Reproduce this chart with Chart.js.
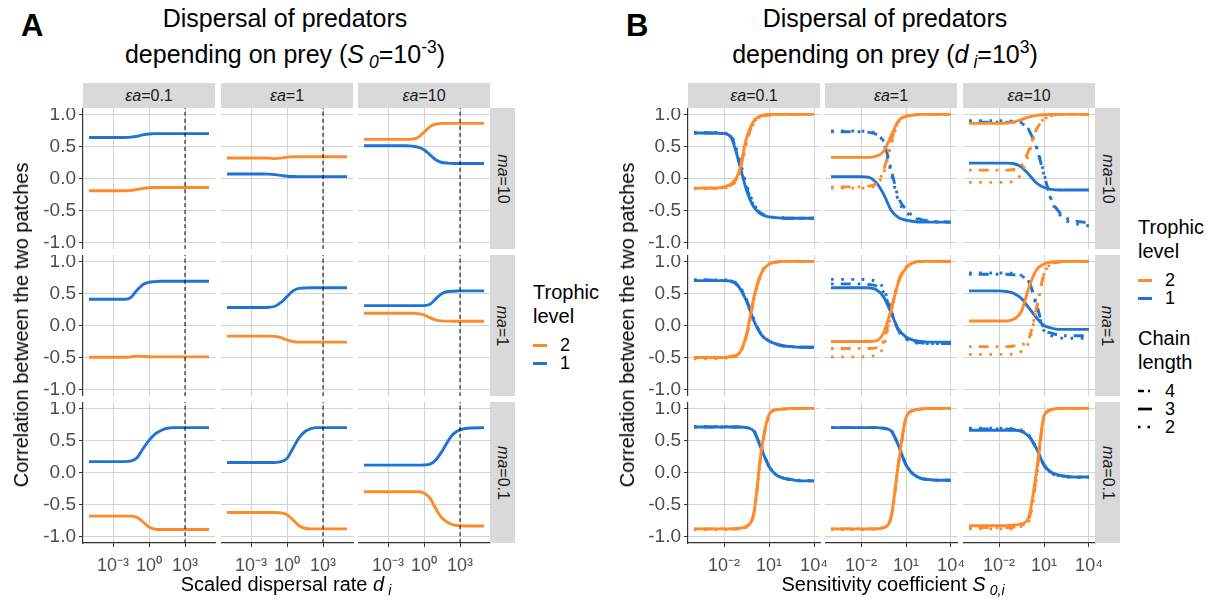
<!DOCTYPE html>
<html><head><meta charset="utf-8">
<script src="https://cdn.jsdelivr.net/npm/chart.js@4.4.1/dist/chart.umd.min.js"></script>
<style>
body{margin:0;background:#fff;width:1217px;height:600px;position:relative;overflow:hidden;font-family:"Liberation Sans",Arial,Helvetica,sans-serif;color:#000}
.abs{position:absolute;white-space:nowrap}
.title{font-size:25px;line-height:25px;transform:translateX(-50%)}
.plab{font-size:31px;font-weight:bold;line-height:31px}
.strip{position:absolute;background:#d9d9d9;color:#1a1a1a;font-size:16px;display:flex;align-items:center;justify-content:center;white-space:nowrap}
.strip span.r{display:inline-block;transform:rotate(90deg)}
.axt{font-size:20px;line-height:20px}
sub,sup{font-size:0.7em;line-height:0;position:relative;vertical-align:baseline}
sup{top:-0.55em} sub{top:0.3em}
.lt{font-size:20px;line-height:24px}
.li{font-size:18px;line-height:18px;display:flex;align-items:center;height:18px}
.key{display:inline-block;width:14px;height:3px;margin-right:13px}
</style></head><body>
<script>
// ---------- categories / ticks ----------
const EA_LABELS = ['0.1','1','10'];          // facet columns (εa)
const MA_LABELS = ['10','1','0.1'];          // facet rows (ma)
const Y_TICKS = [-1, -0.5, 0, 0.5, 1];
const A_X_TICKS = [1e-3, 1, 1e3];
const A_X_TICK_LABELS = ['10⁻³','10⁰','10³'];
const B_X_TICKS = [1e-2, 10, 1e4];
const B_X_TICK_LABELS = ['10⁻²','10¹','10⁴'];
const A_DASHED_AT = 1000;

// ---------- panel A: x = scaled dispersal rate d_i ----------
const A_X = [1e-5,1e-4,1e-3,1e-2,0.0316,0.1,0.316,1,3.16,10,31.6,100,316,1000,1e4,1e5];
const A_ma10_ea01_L1 = [0.64,0.64,0.64,0.64,0.645,0.66,0.68,0.695,0.70,0.70,0.70,0.70,0.70,0.70,0.70,0.70];
const A_ma10_ea01_L2 = [-0.19,-0.19,-0.19,-0.19,-0.185,-0.17,-0.155,-0.145,-0.14,-0.14,-0.14,-0.14,-0.14,-0.14,-0.14,-0.14];
const A_ma10_ea1_L1 = [0.07,0.07,0.07,0.07,0.068,0.06,0.048,0.036,0.031,0.03,0.03,0.03,0.03,0.03,0.03,0.03];
const A_ma10_ea1_L2 = [0.32,0.32,0.32,0.32,0.318,0.31,0.318,0.333,0.34,0.34,0.34,0.34,0.34,0.34,0.34,0.34];
const A_ma10_ea10_L1 = [0.51,0.51,0.51,0.51,0.51,0.505,0.49,0.45,0.37,0.29,0.25,0.24,0.235,0.235,0.235,0.235];
const A_ma10_ea10_L2 = [0.61,0.61,0.61,0.61,0.61,0.615,0.64,0.72,0.81,0.85,0.86,0.86,0.86,0.86,0.86,0.86];
const A_ma1_ea01_L1 = [0.41,0.41,0.41,0.41,0.44,0.55,0.64,0.675,0.685,0.69,0.69,0.69,0.69,0.69,0.69,0.69];
const A_ma1_ea01_L2 = [-0.495,-0.495,-0.495,-0.495,-0.49,-0.478,-0.482,-0.487,-0.49,-0.49,-0.49,-0.49,-0.49,-0.49,-0.49,-0.49];
const A_ma1_ea1_L1 = [0.28,0.28,0.28,0.28,0.285,0.30,0.36,0.45,0.54,0.58,0.585,0.59,0.59,0.59,0.59,0.59];
const A_ma1_ea1_L2 = [-0.165,-0.165,-0.165,-0.165,-0.165,-0.17,-0.19,-0.225,-0.25,-0.26,-0.26,-0.26,-0.26,-0.26,-0.26,-0.26];
const A_ma1_ea10_L1 = [0.31,0.31,0.31,0.31,0.31,0.31,0.31,0.31,0.33,0.42,0.50,0.53,0.535,0.54,0.54,0.54];
const A_ma1_ea10_L2 = [0.19,0.19,0.19,0.19,0.19,0.19,0.185,0.165,0.12,0.085,0.072,0.068,0.067,0.067,0.067,0.067];
const A_ma01_ea01_L1 = [0.17,0.17,0.17,0.17,0.18,0.23,0.37,0.50,0.60,0.655,0.69,0.70,0.70,0.70,0.70,0.70];
const A_ma01_ea01_L2 = [-0.68,-0.68,-0.68,-0.68,-0.68,-0.70,-0.77,-0.85,-0.885,-0.89,-0.89,-0.89,-0.89,-0.89,-0.89,-0.89];
const A_ma01_ea1_L1 = [0.155,0.155,0.155,0.155,0.155,0.157,0.17,0.22,0.38,0.54,0.64,0.685,0.70,0.70,0.70,0.70];
const A_ma01_ea1_L2 = [-0.625,-0.625,-0.625,-0.625,-0.625,-0.625,-0.63,-0.66,-0.74,-0.83,-0.87,-0.88,-0.88,-0.88,-0.88,-0.88];
const A_ma01_ea10_L1 = [0.115,0.115,0.115,0.115,0.115,0.115,0.115,0.118,0.13,0.20,0.33,0.49,0.61,0.665,0.695,0.70];
const A_ma01_ea10_L2 = [-0.30,-0.30,-0.30,-0.30,-0.30,-0.30,-0.30,-0.32,-0.40,-0.57,-0.71,-0.78,-0.82,-0.83,-0.835,-0.835];

// ---------- panel B: x = sensitivity coefficient S_0,i ----------
const B_X = [1e-4,1e-3,0.01,0.0316,0.1,0.316,1,3.16,10,31.6,100,316,1000,1e4];
// ma=10
const B_ma10_ea01_L1_c4 = [0.71,0.71,0.70,0.64,0.28,-0.14,-0.43,-0.55,-0.60,-0.61,-0.62,-0.62,-0.62,-0.62];
const B_ma10_ea01_L1_c3 = [0.71,0.71,0.70,0.63,0.25,-0.18,-0.45,-0.56,-0.60,-0.61,-0.62,-0.62,-0.62,-0.62];
const B_ma10_ea01_L1_c2 = [0.72,0.72,0.71,0.66,0.32,-0.10,-0.40,-0.54,-0.59,-0.61,-0.61,-0.62,-0.62,-0.62];
const B_ma10_ea01_L2_c4 = [-0.15,-0.15,-0.14,-0.10,0.08,0.58,0.88,0.97,0.99,1,1,1,1,1];
const B_ma10_ea01_L2_c3 = [-0.15,-0.15,-0.13,-0.08,0.10,0.63,0.90,0.98,1,1,1,1,1,1];
const B_ma10_ea01_L2_c2 = [-0.16,-0.16,-0.15,-0.11,0.05,0.55,0.87,0.97,0.99,1,1,1,1,1];
const B_ma10_ea1_L1_c4 = [0.73,0.73,0.73,0.72,0.69,0.58,0.15,-0.30,-0.48,-0.59,-0.64,-0.66,-0.67,-0.68];
const B_ma10_ea1_L1_c3 = [0.03,0.03,0.03,0.02,-0.06,-0.24,-0.49,-0.61,-0.65,-0.67,-0.68,-0.68,-0.68,-0.68];
const B_ma10_ea1_L1_c2 = [0.74,0.74,0.74,0.73,0.70,0.56,0.10,-0.35,-0.52,-0.61,-0.65,-0.67,-0.68,-0.68];
const B_ma10_ea1_L2_c4 = [-0.13,-0.13,-0.13,-0.12,-0.08,0.12,0.58,0.90,0.97,0.99,1,1,1,1];
const B_ma10_ea1_L2_c3 = [0.33,0.33,0.33,0.33,0.35,0.42,0.66,0.90,0.97,0.99,1,1,1,1];
const B_ma10_ea1_L2_c2 = [-0.15,-0.15,-0.15,-0.14,-0.10,0.08,0.52,0.88,0.97,0.99,1,1,1,1];
const B_ma10_ea10_L1_c4 = [0.88,0.88,0.88,0.88,0.88,0.86,0.75,0.48,0.06,-0.33,-0.52,-0.62,-0.66,-0.69];
const B_ma10_ea10_L1_c3 = [0.24,0.24,0.24,0.24,0.23,0.18,0.06,-0.07,-0.14,-0.17,-0.18,-0.18,-0.18,-0.18];
const B_ma10_ea10_L1_c2 = [0.90,0.90,0.90,0.90,0.89,0.87,0.76,0.50,0.08,-0.35,-0.55,-0.66,-0.70,-0.74];
const B_ma10_ea10_L2_c4 = [0.13,0.13,0.13,0.13,0.14,0.20,0.45,0.77,0.92,0.98,1,1,1,1];
const B_ma10_ea10_L2_c3 = [0.86,0.86,0.86,0.865,0.88,0.92,0.96,0.985,0.995,1,1,1,1,1];
const B_ma10_ea10_L2_c2 = [-0.06,-0.06,-0.06,-0.06,-0.04,0.08,0.40,0.76,0.93,0.98,1,1,1,1];
// ma=1
const B_ma1_ea01_L1_c4 = [0.71,0.71,0.70,0.69,0.61,0.40,0.08,-0.14,-0.24,-0.29,-0.32,-0.33,-0.34,-0.34];
const B_ma1_ea01_L1_c3 = [0.70,0.70,0.70,0.69,0.60,0.38,0.07,-0.15,-0.24,-0.29,-0.32,-0.33,-0.34,-0.34];
const B_ma1_ea01_L1_c2 = [0.71,0.71,0.71,0.70,0.62,0.41,0.09,-0.14,-0.24,-0.29,-0.32,-0.33,-0.34,-0.34];
const B_ma1_ea01_L2_c4 = [-0.50,-0.50,-0.50,-0.49,-0.44,-0.16,0.42,0.83,0.96,0.99,1,1,1,1];
const B_ma1_ea01_L2_c3 = [-0.50,-0.50,-0.50,-0.48,-0.44,-0.14,0.45,0.82,0.96,0.99,1,1,1,1];
const B_ma1_ea01_L2_c2 = [-0.52,-0.52,-0.51,-0.50,-0.45,-0.17,0.40,0.82,0.96,0.99,1,1,1,1];
const B_ma1_ea1_L1_c4 = [0.65,0.65,0.65,0.64,0.62,0.52,0.22,-0.08,-0.20,-0.25,-0.27,-0.28,-0.28,-0.28];
const B_ma1_ea1_L1_c3 = [0.59,0.59,0.59,0.59,0.56,0.45,0.20,-0.06,-0.18,-0.23,-0.25,-0.26,-0.26,-0.26];
const B_ma1_ea1_L1_c2 = [0.72,0.72,0.72,0.71,0.69,0.58,0.25,-0.08,-0.21,-0.26,-0.28,-0.28,-0.28,-0.28];
const B_ma1_ea1_L2_c4 = [-0.36,-0.36,-0.36,-0.36,-0.35,-0.25,0.22,0.70,0.91,0.98,1,1,1,1];
const B_ma1_ea1_L2_c3 = [-0.25,-0.25,-0.25,-0.25,-0.24,-0.12,0.24,0.68,0.90,0.98,1,1,1,1];
const B_ma1_ea1_L2_c2 = [-0.49,-0.49,-0.49,-0.48,-0.46,-0.33,0.18,0.68,0.90,0.98,1,1,1,1];
const B_ma1_ea10_L1_c4 = [0.80,0.80,0.80,0.80,0.79,0.77,0.68,0.33,-0.05,-0.12,-0.15,-0.16,-0.16,-0.16];
const B_ma1_ea10_L1_c3 = [0.54,0.54,0.54,0.53,0.50,0.42,0.27,0.12,0.00,-0.04,-0.06,-0.06,-0.06,-0.06];
const B_ma1_ea10_L1_c2 = [0.82,0.82,0.82,0.82,0.81,0.78,0.68,0.30,-0.08,-0.16,-0.19,-0.20,-0.20,-0.20];
const B_ma1_ea10_L2_c4 = [-0.33,-0.33,-0.33,-0.33,-0.32,-0.30,-0.20,0.27,0.80,0.96,0.99,1,1,1];
const B_ma1_ea10_L2_c3 = [0.07,0.07,0.07,0.07,0.10,0.22,0.60,0.87,0.96,0.99,1,1,1,1];
const B_ma1_ea10_L2_c2 = [-0.45,-0.45,-0.45,-0.45,-0.44,-0.40,-0.25,0.25,0.80,0.96,0.99,1,1,1];
// ma=0.1
const B_ma01_ea01_L1_c4 = [0.71,0.71,0.71,0.71,0.71,0.70,0.64,0.37,0.10,-0.04,-0.09,-0.11,-0.13,-0.13];
const B_ma01_ea01_L1_c3 = [0.71,0.71,0.71,0.71,0.71,0.70,0.64,0.36,0.09,-0.04,-0.09,-0.11,-0.13,-0.13];
const B_ma01_ea01_L1_c2 = [0.72,0.72,0.72,0.71,0.71,0.70,0.65,0.38,0.10,-0.03,-0.09,-0.11,-0.12,-0.13];
const B_ma01_ea01_L2_c4 = [-0.88,-0.88,-0.88,-0.88,-0.87,-0.84,-0.63,0.34,0.89,0.98,0.99,1,1,1];
const B_ma01_ea01_L2_c3 = [-0.88,-0.88,-0.88,-0.88,-0.87,-0.84,-0.62,0.36,0.90,0.98,0.99,1,1,1];
const B_ma01_ea01_L2_c2 = [-0.89,-0.89,-0.89,-0.89,-0.88,-0.85,-0.64,0.33,0.89,0.98,0.99,1,1,1];
const B_ma01_ea1_L1_c4 = [0.70,0.70,0.70,0.70,0.70,0.69,0.65,0.42,0.12,-0.03,-0.09,-0.11,-0.12,-0.12];
const B_ma01_ea1_L1_c3 = [0.70,0.70,0.70,0.70,0.70,0.69,0.65,0.42,0.12,-0.03,-0.09,-0.11,-0.12,-0.12];
const B_ma01_ea1_L1_c2 = [0.70,0.70,0.70,0.70,0.70,0.69,0.66,0.43,0.13,-0.02,-0.09,-0.11,-0.12,-0.12];
const B_ma01_ea1_L2_c4 = [-0.88,-0.88,-0.88,-0.88,-0.88,-0.86,-0.70,0.14,0.85,0.97,0.99,1,1,1];
const B_ma01_ea1_L2_c3 = [-0.88,-0.88,-0.88,-0.88,-0.88,-0.86,-0.70,0.15,0.85,0.97,0.99,1,1,1];
const B_ma01_ea1_L2_c2 = [-0.89,-0.89,-0.89,-0.89,-0.88,-0.86,-0.71,0.13,0.84,0.97,0.99,1,1,1];
const B_ma01_ea10_L1_c4 = [0.68,0.68,0.68,0.68,0.67,0.65,0.57,0.37,0.11,-0.01,-0.05,-0.06,-0.07,-0.07];
const B_ma01_ea10_L1_c3 = [0.66,0.66,0.66,0.66,0.66,0.64,0.56,0.37,0.12,0.00,-0.04,-0.06,-0.07,-0.07];
const B_ma01_ea10_L1_c2 = [0.69,0.69,0.69,0.69,0.68,0.66,0.58,0.38,0.12,-0.01,-0.05,-0.07,-0.08,-0.08];
const B_ma01_ea10_L2_c4 = [-0.86,-0.86,-0.86,-0.86,-0.85,-0.82,-0.72,-0.05,0.86,0.98,1,1,1,1];
const B_ma01_ea10_L2_c3 = [-0.83,-0.83,-0.83,-0.83,-0.82,-0.80,-0.68,0.02,0.88,0.98,1,1,1,1];
const B_ma01_ea10_L2_c2 = [-0.88,-0.88,-0.88,-0.88,-0.87,-0.84,-0.75,-0.10,0.85,0.98,1,1,1,1];

// ---------- tables built from the arrays ----------
const A_TABLE = [
  [[A_ma10_ea01_L2, A_ma10_ea01_L1],[A_ma10_ea1_L2, A_ma10_ea1_L1],[A_ma10_ea10_L2, A_ma10_ea10_L1]],
  [[A_ma1_ea01_L2, A_ma1_ea01_L1],[A_ma1_ea1_L2, A_ma1_ea1_L1],[A_ma1_ea10_L2, A_ma1_ea10_L1]],
  [[A_ma01_ea01_L2, A_ma01_ea01_L1],[A_ma01_ea1_L2, A_ma01_ea1_L1],[A_ma01_ea10_L2, A_ma01_ea10_L1]]
];
const B_TABLE = [
  [[B_ma10_ea01_L2_c3,B_ma10_ea01_L2_c4,B_ma10_ea01_L2_c2,B_ma10_ea01_L1_c3,B_ma10_ea01_L1_c4,B_ma10_ea01_L1_c2],
   [B_ma10_ea1_L2_c3,B_ma10_ea1_L2_c4,B_ma10_ea1_L2_c2,B_ma10_ea1_L1_c3,B_ma10_ea1_L1_c4,B_ma10_ea1_L1_c2],
   [B_ma10_ea10_L2_c3,B_ma10_ea10_L2_c4,B_ma10_ea10_L2_c2,B_ma10_ea10_L1_c3,B_ma10_ea10_L1_c4,B_ma10_ea10_L1_c2]],
  [[B_ma1_ea01_L2_c3,B_ma1_ea01_L2_c4,B_ma1_ea01_L2_c2,B_ma1_ea01_L1_c3,B_ma1_ea01_L1_c4,B_ma1_ea01_L1_c2],
   [B_ma1_ea1_L2_c3,B_ma1_ea1_L2_c4,B_ma1_ea1_L2_c2,B_ma1_ea1_L1_c3,B_ma1_ea1_L1_c4,B_ma1_ea1_L1_c2],
   [B_ma1_ea10_L2_c3,B_ma1_ea10_L2_c4,B_ma1_ea10_L2_c2,B_ma1_ea10_L1_c3,B_ma1_ea10_L1_c4,B_ma1_ea10_L1_c2]],
  [[B_ma01_ea01_L2_c3,B_ma01_ea01_L2_c4,B_ma01_ea01_L2_c2,B_ma01_ea01_L1_c3,B_ma01_ea01_L1_c4,B_ma01_ea01_L1_c2],
   [B_ma01_ea1_L2_c3,B_ma01_ea1_L2_c4,B_ma01_ea1_L2_c2,B_ma01_ea1_L1_c3,B_ma01_ea1_L1_c4,B_ma01_ea1_L1_c2],
   [B_ma01_ea10_L2_c3,B_ma01_ea10_L2_c4,B_ma01_ea10_L2_c2,B_ma01_ea10_L1_c3,B_ma01_ea10_L1_c4,B_ma01_ea10_L1_c2]]
];

// ---------- styles / layout ----------
const ORANGE = '#ff8a2a', BLUE = '#1f74d3';
const GRID = '#d2d2d2', AXIS = '#333333', TICKTXT = '#4d4d4d';
const LW = 2.9;
const DASH_C4 = [2.7, 7, 10, 7];   // dot-dash (chain length 4)
const DASH_C2 = [2.7, 7.5];        // dotted (chain length 2)
const A_COL_LEFT = [83, 221, 358], B_COL_LEFT = [688, 825, 963];
const ROW_TOP = [108, 255, 402];
const PW = 132, PH = 141, PADL = 64, PADB = 36, PADR = 16;

Chart.defaults.font.family = '"Liberation Sans", Arial, Helvetica, sans-serif';

function pts(xs, ys){ return xs.map((x,i)=>({x:x, y:ys[i]})); }
function series(xs, ys, color, dash, w){
  return {data:pts(xs,ys), borderColor:color, borderWidth:w||LW, borderDash:dash||[],
          pointRadius:0, fill:false, cubicInterpolationMode:'monotone', borderCapStyle:'butt', borderJoinStyle:'round'};
}

function makePanel(o){
  const padL = o.leftCol ? PADL : 0;
  const padB = o.bottomRow ? PADB : 0;
  const padR = o.bottomRow ? PADR : 0;
  const div = document.createElement('div');
  div.style.cssText = `position:absolute;left:${o.x-padL}px;top:${o.y}px;width:${PW+padL+padR}px;height:${PH+padB}px`;
  const cv = document.createElement('canvas');
  div.appendChild(cv); document.body.appendChild(div);
  new Chart(cv, {
    type:'line',
    data:{datasets:o.datasets},
    options:{
      responsive:true, maintainAspectRatio:false, animation:false, events:[],
      layout:{padding:{left:0, top:0, bottom:0, right:padR}},
      plugins:{legend:{display:false}, tooltip:{enabled:false}},
      scales:{
        x:{type:'logarithmic', min:o.xmin, max:o.xmax,
          afterBuildTicks:s=>{ s.ticks = o.xticks.map(v=>({value:v})); },
          afterFit:s=>{ s.height = padB; s.paddingLeft=0; s.paddingRight=0; s.paddingTop=0; s.paddingBottom=0; },
          grid:{color:GRID, lineWidth:1, drawTicks:o.bottomRow, tickLength:4, tickColor:AXIS, tickWidth:1},
          border:{display:o.bottomRow, color:AXIS, width:1.2},
          ticks:{display:o.bottomRow, autoSkip:false, maxRotation:0, color:TICKTXT, font:{size:18}, padding:8,
                 callback:(v)=>{ const k=o.xticks.indexOf(v); return k>=0 ? o.xlabels[k] : ''; }}
        },
        y:{type:'linear', min:-1.1, max:1.1,
          afterBuildTicks:s=>{ s.ticks = Y_TICKS.map(v=>({value:v})); },
          afterFit:s=>{ s.width = padL; s.paddingLeft=0; s.paddingRight=0; s.paddingTop=0; s.paddingBottom=0; },
          grid:{color:GRID, lineWidth:1, drawTicks:o.leftCol, tickLength:4, tickColor:AXIS, tickWidth:1},
          border:{display:o.leftCol, color:AXIS, width:1.2},
          ticks:{display:o.leftCol, color:TICKTXT, font:{size:19}, padding:3,
                 callback:(v)=>Number(v).toFixed(1)}
        }
      }
    }
  });
}

// Panel A facets
for (let r=0;r<3;r++) for (let c=0;c<3;c++){
  const [l2, l1] = A_TABLE[r][c];
  makePanel({
    x:A_COL_LEFT[c], y:ROW_TOP[r], leftCol:c===0, bottomRow:r===2,
    xmin:Math.pow(10,-5.5), xmax:Math.pow(10,5.5), xticks:A_X_TICKS, xlabels:A_X_TICK_LABELS,
    datasets:[
      series([A_DASHED_AT, A_DASHED_AT], [-1.1, 1.1], '#000', [4,3], 1),
      series(A_X, l2, ORANGE),
      series(A_X, l1, BLUE)
    ]
  });
}
// Panel B facets
for (let r=0;r<3;r++) for (let c=0;c<3;c++){
  const s = B_TABLE[r][c];
  makePanel({
    x:B_COL_LEFT[c], y:ROW_TOP[r], leftCol:c===0, bottomRow:r===2,
    xmin:Math.pow(10,-4.4), xmax:Math.pow(10,4.4), xticks:B_X_TICKS, xlabels:B_X_TICK_LABELS,
    datasets:[
      series(B_X, s[0], ORANGE),
      series(B_X, s[1], ORANGE, DASH_C4),
      series(B_X, s[2], ORANGE, DASH_C2),
      series(B_X, s[3], BLUE),
      series(B_X, s[4], BLUE, DASH_C4),
      series(B_X, s[5], BLUE, DASH_C2)
    ]
  });
}

// strips
function addStrip(x,y,w,h,html,rot){
  const d=document.createElement('div'); d.className='strip';
  d.style.cssText=`left:${x}px;top:${y}px;width:${w}px;height:${h}px`;
  d.innerHTML = rot ? `<span class="r">${html}</span>` : html;
  document.body.appendChild(d);
}
[A_COL_LEFT, B_COL_LEFT].forEach(cols=>{
  cols.forEach((x,i)=>addStrip(x, 83, PW, 25, `<i>εa</i>=${EA_LABELS[i]}`, false));
  ROW_TOP.forEach((y,i)=>addStrip(cols[2]+PW, y, 25, PH, `<i>ma</i>=${MA_LABELS[i]}`, true));
});
</script>

<!-- panel letters & titles -->
<div class="abs plab" style="left:21px;top:10px">A</div>
<div class="abs plab" style="left:626px;top:10px">B</div>
<div class="abs title" style="left:285px;top:6px">Dispersal of predators</div>
<div class="abs title" style="left:285px;top:42px">depending on prey (<i>S</i>&#8201;<sub><i>0</i></sub>=10<sup>-3</sup>)</div>
<div class="abs title" style="left:885px;top:6px">Dispersal of predators</div>
<div class="abs title" style="left:885px;top:42px">depending on prey (<i>d</i>&#8201;<sub><i>i</i></sub>=10<sup>3</sup>)</div>

<!-- axis titles -->
<div class="abs axt" style="left:21px;top:325px;transform:translate(-50%,-50%) rotate(-90deg)">Correlation between the two patches</div>
<div class="abs axt" style="left:627px;top:325px;transform:translate(-50%,-50%) rotate(-90deg)">Correlation between the two patches</div>
<div class="abs axt" style="left:286px;top:574px;transform:translateX(-50%)">Scaled dispersal rate <i>d</i>&#8201;<sub><i>i</i></sub></div>
<div class="abs axt" style="left:893px;top:574px;transform:translateX(-50%)">Sensitivity coefficient <i>S</i>&#8201;<sub><i>0,i</i></sub></div>

<!-- legend A -->
<div class="abs" style="left:533px;top:280px">
  <div class="lt">Trophic<br>level</div>
  <div style="height:8px"></div>
  <div class="li"><span class="key" style="background:#ff8a2a"></span>2</div>
  <div class="li"><span class="key" style="background:#1f74d3"></span>1</div>
</div>
<!-- legend B -->
<div class="abs" style="left:1138px;top:215px">
  <div class="lt">Trophic<br>level</div>
  <div style="height:8px"></div>
  <div class="li"><span class="key" style="background:#ff8a2a"></span>2</div>
  <div class="li"><span class="key" style="background:#1f74d3"></span>1</div>
  <div style="height:19px"></div>
  <div class="lt">Chain<br>length</div>
  <div style="height:8px"></div>
  <div class="li"><svg width="14" height="6" style="margin-right:13px"><line x1="0" y1="3" x2="14" y2="3" stroke="#000" stroke-width="2.7" stroke-dasharray="6,4,2,10"/></svg>4</div>
  <div class="li"><svg width="14" height="6" style="margin-right:13px"><line x1="0" y1="3" x2="14" y2="3" stroke="#000" stroke-width="2.7"/></svg>3</div>
  <div class="li"><svg width="14" height="6" style="margin-right:13px"><line x1="0" y1="3" x2="14" y2="3" stroke="#000" stroke-width="2.7" stroke-dasharray="2.5,7"/></svg>2</div>
</div>
</body></html>
